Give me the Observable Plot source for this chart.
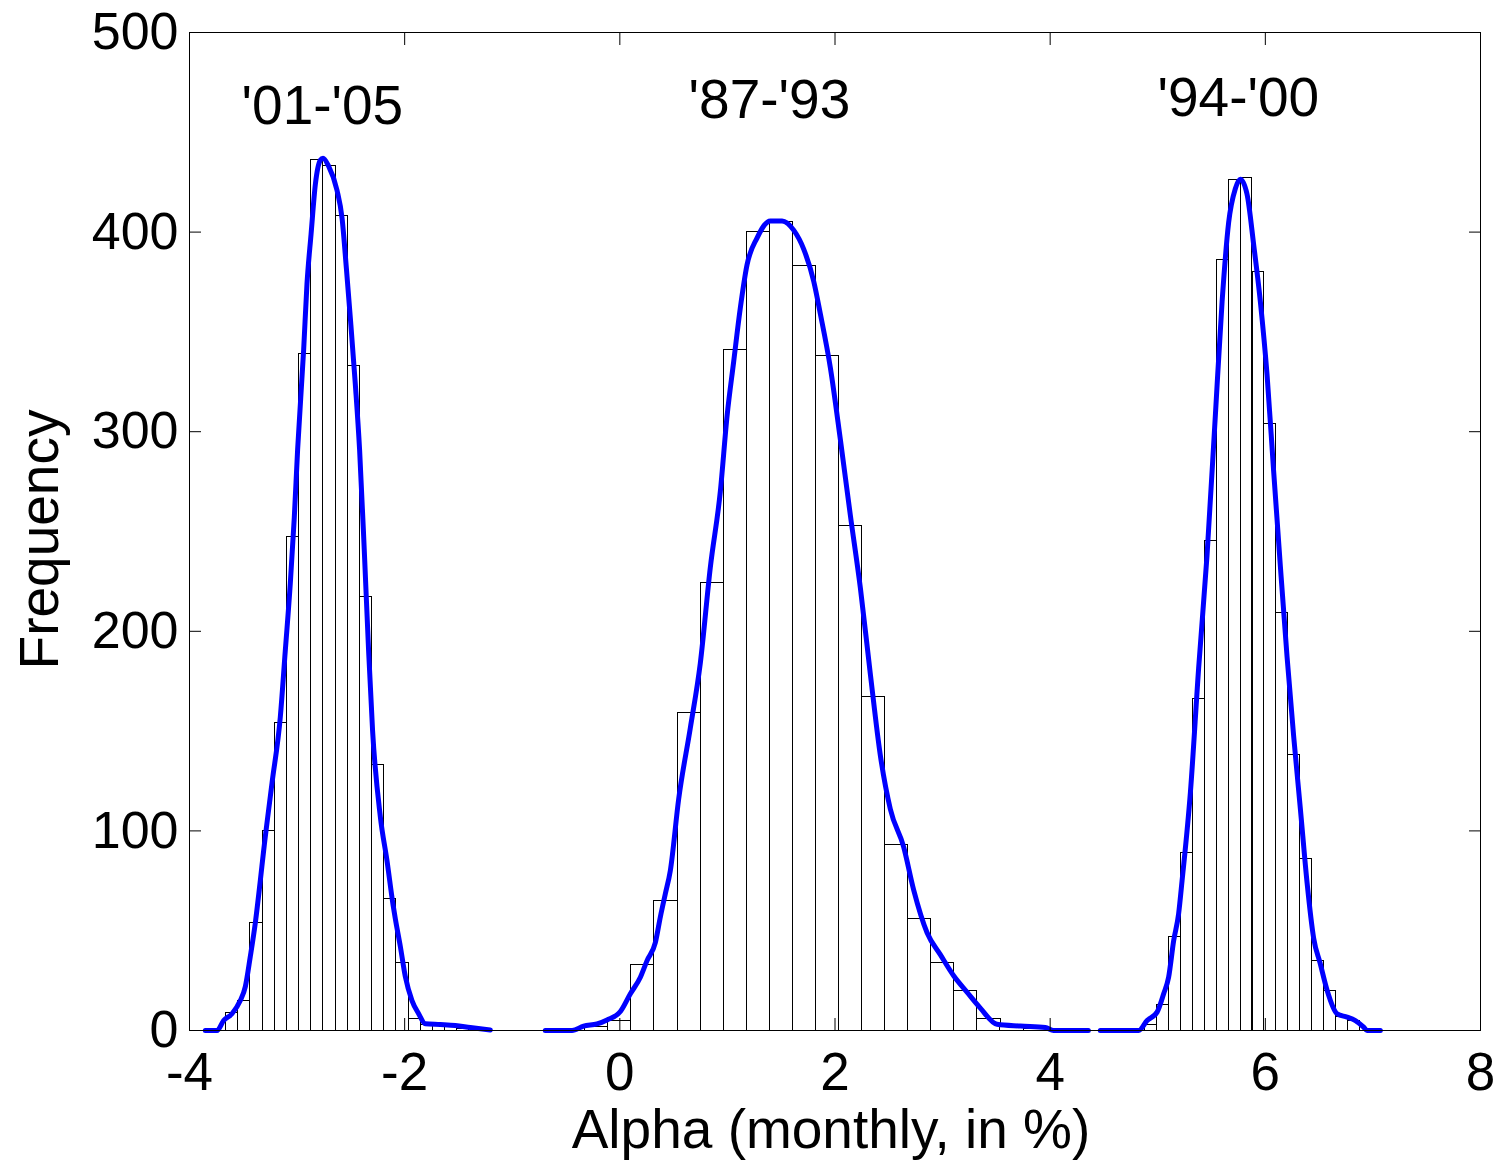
<!DOCTYPE html>
<html><head><meta charset="utf-8">
<script src="https://cdn.jsdelivr.net/npm/d3@7"></script>
<script src="https://cdn.jsdelivr.net/npm/@observablehq/plot@0.6"></script>
<style>html,body{margin:0;padding:0;background:#fff;} svg{display:block}</style>
</head><body><div id="chart"></div>
<script>
// ---- axes ----
const xTicks = [-4, -2, 0, 2, 4, 6, 8];
const yTicks = [0, 100, 200, 300, 400, 500];
const xTitle = "Alpha (monthly, in %)";
const yTitle = "Frequency";

// ---- period labels ----
const periods = ["'01-'05", "'87-'93", "'94-'00"];
const labelX = [-2.765, 1.390, 5.749];
const labelY = [463, 466, 467];

// ---- histogram '01-'05 ----
const width1 = 0.1131;
const edges1 = [-3.660, -3.547, -3.434, -3.321, -3.208, -3.095, -2.981, -2.868, -2.755, -2.642, -2.529, -2.416, -2.303, -2.190, -2.076, -1.963, -1.850, -1.737, -1.624, -1.511, -1.398];
const counts1 = [9, 15, 54, 100, 154, 247, 339, 436, 433, 408, 333, 217, 133, 66, 34, 6, 3, 3, 2, 1, 1];

// ---- histogram '87-'93 ----
const width2 = 0.2144;
const edges2 = [-0.321, -0.106, 0.108, 0.322, 0.537, 0.751, 0.966, 1.180, 1.394, 1.609, 1.823, 2.038, 2.252, 2.466, 2.681, 2.895, 3.110, 3.324, 3.538, 3.753];
const counts2 = [2, 5, 33, 65, 159, 224, 341, 400, 405, 383, 338, 253, 167, 93, 56, 34, 20, 6, 2, 1];

// ---- histogram '94-'00 ----
const width3 = 0.1107;
const edges3 = [4.885, 4.996, 5.106, 5.217, 5.328, 5.438, 5.549, 5.660, 5.770, 5.881, 5.992, 6.103, 6.213, 6.324, 6.435, 6.545, 6.656, 6.767];
const counts3 = [3, 13, 47, 89, 166, 245, 386, 426, 427, 380, 304, 209, 138, 86, 35, 20, 7, 5];

// ---- density curves ----
const curve1 = [[-3.853, 0], [-3.744, 0], [-3.683, 5], [-3.605, 8.4], [-3.528, 15], [-3.481, 22], [-3.435, 37], [-3.388, 54], [-3.342, 75], [-3.311, 90], [-3.233, 124], [-3.156, 157], [-3.110, 190], [-3.063, 224], [-3.026, 257], [-2.995, 291], [-2.939, 341], [-2.908, 374], [-2.870, 399], [-2.830, 424], [-2.784, 436], [-2.759, 437], [-2.707, 433], [-2.629, 421], [-2.582, 407], [-2.542, 382], [-2.505, 357], [-2.459, 324], [-2.419, 291], [-2.375, 240], [-2.335, 190], [-2.298, 150], [-2.226, 107], [-2.164, 85], [-2.108, 63], [-2.087, 56], [-2.040, 42], [-1.994, 27], [-1.932, 15], [-1.870, 8.4], [-1.808, 3.4], [-1.669, 3], [-1.529, 2.5], [-1.390, 1.5], [-1.204, 0.3]];
const curve2 = [[-0.693, 0], [-0.444, 0], [-0.337, 2.2], [-0.212, 3.3], [-0.119, 5.3], [0.005, 9.5], [0.098, 18.4], [0.191, 26.7], [0.253, 35], [0.330, 44], [0.377, 57], [0.423, 68.5], [0.469, 80], [0.547, 116], [0.655, 151.5], [0.748, 184], [0.841, 232], [0.934, 270], [0.997, 308], [1.058, 335], [1.120, 362], [1.182, 383.5], [1.275, 397], [1.399, 405.6], [1.508, 405.6], [1.616, 401], [1.709, 391.5], [1.802, 375.4], [1.864, 359], [1.957, 332], [2.050, 296], [2.143, 258], [2.236, 221.6], [2.329, 178.4], [2.421, 138], [2.514, 111], [2.638, 92], [2.731, 70.5], [2.856, 49], [2.979, 38], [3.103, 27.4], [3.227, 19.2], [3.351, 11.2], [3.506, 3.1], [3.723, 2.2], [3.955, 1.5], [4.032, 0], [4.355, 0]];
const curve3 = [[4.466, 0], [4.823, 0], [4.901, 5], [4.994, 9.2], [5.055, 18.4], [5.101, 26.7], [5.148, 45], [5.194, 58.5], [5.226, 75], [5.303, 119], [5.380, 181.5], [5.458, 238], [5.536, 308.7], [5.598, 365], [5.659, 404.8], [5.721, 421.7], [5.768, 426.5], [5.830, 419], [5.892, 393.5], [5.954, 365], [6.016, 328.5], [6.077, 280.4], [6.140, 232.4], [6.202, 187.2], [6.263, 147.6], [6.326, 110.9], [6.388, 74], [6.449, 46.3], [6.511, 33.4], [6.574, 20.2], [6.667, 8.4], [6.760, 6.7], [6.837, 5], [6.914, 1.7], [6.945, 0], [7.069, 0]];

// ---- tables built from the arrays ----
const bars = [
  ...edges1.map((e, i) => ({x1: e, x2: e + width1, y: counts1[i]})),
  ...edges2.map((e, i) => ({x1: e, x2: e + width2, y: counts2[i]})),
  ...edges3.map((e, i) => ({x1: e, x2: e + width3, y: counts3[i]}))
];
const toPts = (arr) => arr.map(([x, y]) => ({x, y}));

const font = '"Liberation Sans", Arial, Helvetica, sans-serif';
const lineStyle = {x: "x", y: "y", stroke: "#0000ff", strokeWidth: 5, curve: "monotone-x", strokeLinejoin: "round", strokeLinecap: "round"};
const chart = Plot.plot({
  width: 1500,
  height: 1161,
  marginLeft: 189,
  marginRight: 20,
  marginTop: 32,
  marginBottom: 131,
  style: {fontFamily: font, color: "black", background: "white", overflow: "visible"},
  x: {domain: [-4, 8]},
  y: {domain: [0, 500]},
  marks: [
    Plot.rectY(bars, {x1: "x1", x2: "x2", y: "y", fill: "white", stroke: "black", strokeWidth: 1, shapeRendering: "crispEdges"}),
    Plot.line(toPts(curve1), lineStyle),
    Plot.line(toPts(curve2), lineStyle),
    Plot.line(toPts(curve3), lineStyle),
    Plot.frame({stroke: "black", strokeWidth: 1}),
    Plot.axisX(xTicks, {anchor: "bottom", tickSize: -12, tickPadding: 34, fontSize: 53, tickFormat: d => String(d), label: null}),
    Plot.axisX(xTicks, {anchor: "top", tickSize: -12, fill: "none", label: null}),
    Plot.axisY(yTicks, {anchor: "left", tickSize: -12, tickPadding: 23, fontSize: 52, tickFormat: d => String(d), label: null}),
    Plot.axisY(yTicks, {anchor: "right", tickSize: -12, fill: "none", label: null}),
    Plot.text(periods, {x: (d, i) => labelX[i], y: (d, i) => labelY[i], text: d => d, fontSize: 55, fill: "black"}),
    Plot.text([xTitle], {frameAnchor: "bottom", lineAnchor: "middle", textAnchor: "middle", dy: 100, dx: -4, fontSize: 55, fill: "black"}),
    Plot.text([yTitle], {frameAnchor: "left", rotate: -90, textAnchor: "middle", lineAnchor: "middle", dx: -149, dy: 8, fontSize: 55, fill: "black"})
  ]
});
document.getElementById("chart").appendChild(chart);
</script>
</body></html>
